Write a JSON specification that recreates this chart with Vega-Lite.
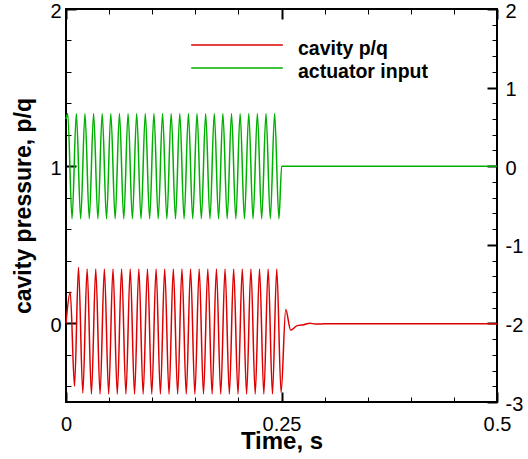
{
  "$schema": "https://vega.github.io/schema/vega-lite/v6.json",
  "width": 431,
  "height": 393,
  "autosize": {"type": "none"},
  "padding": {"left": 66, "top": 9, "right": 31, "bottom": 57},
  "background": "white",
  "config": {
    "font": "Liberation Sans",
    "view": {"stroke": "black", "strokeWidth": 2},
    "axis": {
      "domain": false,
      "grid": false,
      "labelFont": "Liberation Sans",
      "labelFontSize": 20,
      "labelColor": "black",
      "labelFlush": false,
      "labelOverlap": false,
      "tickColor": "black",
      "titleColor": "black",
      "titleFont": "Liberation Sans",
      "titleFontWeight": "bold"
    }
  },
  "datasets": {
    "pressure": [
      {"t": 0, "p": 0}, {"t": 0.0049, "p": 0.2}, {"t": 0.0099, "p": -0.4},
      {"t": 0.0145, "p": 0.357}, {"t": 0.0195, "p": -0.443},
      {"t": 0.0245, "p": 0.346}, {"t": 0.0295, "p": -0.449},
      {"t": 0.0345, "p": 0.346}, {"t": 0.0395, "p": -0.449},
      {"t": 0.0445, "p": 0.346}, {"t": 0.0495, "p": -0.449},
      {"t": 0.0545, "p": 0.346}, {"t": 0.0595, "p": -0.449},
      {"t": 0.0645, "p": 0.346}, {"t": 0.0695, "p": -0.449},
      {"t": 0.0745, "p": 0.346}, {"t": 0.0795, "p": -0.449},
      {"t": 0.0845, "p": 0.346}, {"t": 0.0895, "p": -0.449},
      {"t": 0.0945, "p": 0.346}, {"t": 0.0995, "p": -0.449},
      {"t": 0.1045, "p": 0.346}, {"t": 0.1095, "p": -0.449},
      {"t": 0.1145, "p": 0.346}, {"t": 0.1195, "p": -0.449},
      {"t": 0.1245, "p": 0.346}, {"t": 0.1295, "p": -0.449},
      {"t": 0.1345, "p": 0.346}, {"t": 0.1395, "p": -0.449},
      {"t": 0.1445, "p": 0.346}, {"t": 0.1495, "p": -0.449},
      {"t": 0.1545, "p": 0.346}, {"t": 0.1595, "p": -0.449},
      {"t": 0.1645, "p": 0.346}, {"t": 0.1695, "p": -0.449},
      {"t": 0.1745, "p": 0.346}, {"t": 0.1795, "p": -0.449},
      {"t": 0.1845, "p": 0.346}, {"t": 0.1895, "p": -0.449},
      {"t": 0.1945, "p": 0.346}, {"t": 0.1995, "p": -0.449},
      {"t": 0.2045, "p": 0.346}, {"t": 0.2095, "p": -0.449},
      {"t": 0.2145, "p": 0.346}, {"t": 0.2195, "p": -0.449},
      {"t": 0.2245, "p": 0.346}, {"t": 0.2295, "p": -0.449},
      {"t": 0.2345, "p": 0.346}, {"t": 0.2395, "p": -0.449},
      {"t": 0.2445, "p": 0.346}, {"t": 0.2495, "p": -0.44},
      {"t": 0.2549, "p": 0.089}, {"t": 0.2607, "p": -0.043},
      {"t": 0.2677, "p": -0.016}, {"t": 0.276, "p": -0.008},
      {"t": 0.2831, "p": 0.001}, {"t": 0.289, "p": -0.004},
      {"t": 0.3, "p": -0.003}, {"t": 0.3142, "p": -0.002},
      {"t": 0.5, "p": -0.002}
    ],
    "actuator": [
      {"t": 0, "u": 0.6},
      {"t": 0.002, "u": 0.67}, {"t": 0.007, "u": -0.67},
      {"t": 0.012, "u": 0.67}, {"t": 0.017, "u": -0.67},
      {"t": 0.022, "u": 0.67}, {"t": 0.027, "u": -0.67},
      {"t": 0.032, "u": 0.67}, {"t": 0.037, "u": -0.67},
      {"t": 0.042, "u": 0.67}, {"t": 0.047, "u": -0.67},
      {"t": 0.052, "u": 0.67}, {"t": 0.057, "u": -0.67},
      {"t": 0.062, "u": 0.67}, {"t": 0.067, "u": -0.67},
      {"t": 0.072, "u": 0.67}, {"t": 0.077, "u": -0.67},
      {"t": 0.082, "u": 0.67}, {"t": 0.087, "u": -0.67},
      {"t": 0.092, "u": 0.67}, {"t": 0.097, "u": -0.67},
      {"t": 0.102, "u": 0.67}, {"t": 0.107, "u": -0.67},
      {"t": 0.112, "u": 0.67}, {"t": 0.117, "u": -0.67},
      {"t": 0.122, "u": 0.67}, {"t": 0.127, "u": -0.67},
      {"t": 0.132, "u": 0.67}, {"t": 0.137, "u": -0.67},
      {"t": 0.142, "u": 0.67}, {"t": 0.147, "u": -0.67},
      {"t": 0.152, "u": 0.67}, {"t": 0.157, "u": -0.67},
      {"t": 0.162, "u": 0.67}, {"t": 0.167, "u": -0.67},
      {"t": 0.172, "u": 0.67}, {"t": 0.177, "u": -0.67},
      {"t": 0.182, "u": 0.67}, {"t": 0.187, "u": -0.67},
      {"t": 0.192, "u": 0.67}, {"t": 0.197, "u": -0.67},
      {"t": 0.202, "u": 0.67}, {"t": 0.207, "u": -0.67},
      {"t": 0.212, "u": 0.67}, {"t": 0.217, "u": -0.67},
      {"t": 0.222, "u": 0.67}, {"t": 0.227, "u": -0.67},
      {"t": 0.232, "u": 0.67}, {"t": 0.237, "u": -0.67},
      {"t": 0.242, "u": 0.67}, {"t": 0.247, "u": -0.67},
      {"t": 0.2502, "u": 0}, {"t": 0.5, "u": 0}
    ]
  },
  "layer": [
    {
      "data": {"name": "pressure"},
      "mark": {"type": "line", "strokeWidth": 1.5, "interpolate": "monotone"},
      "encoding": {
        "x": {
          "field": "t",
          "type": "quantitative",
          "scale": {"domain": [0, 0.5], "nice": false, "zero": false},
          "axis": {
            "orient": "bottom",
            "values": [0, 0.05, 0.1, 0.15, 0.2, 0.25, 0.3, 0.35, 0.4, 0.45, 0.5],
            "labelExpr": "datum.value == 0 || datum.value == 0.25 || datum.value == 0.5 ? toString(datum.value) : ''",
            "tickSize": {"condition": {"test": "datum.value == 0 || datum.value == 0.25 || datum.value == 0.5", "value": -10}, "value": -5},
            "tickWidth": {"condition": {"test": "datum.value == 0 || datum.value == 0.25 || datum.value == 0.5", "value": 2}, "value": 1},
            "labelPadding": 22,
            "title": "Time, s",
            "titleFontSize": 24,
            "titleBaseline": "alphabetic",
            "titleY": 46
          }
        },
        "y": {
          "field": "p",
          "type": "quantitative",
          "scale": {"domain": [-0.5, 2], "nice": false, "zero": false},
          "axis": {
            "orient": "left",
            "values": [-0.4, -0.2, 0, 0.2, 0.4, 0.6, 0.8, 1, 1.2, 1.4, 1.6, 1.8, 2],
            "labelExpr": "datum.value % 1 == 0 ? toString(datum.value) : ''",
            "tickSize": {"condition": {"test": "datum.value % 1 == 0", "value": -10}, "value": -5},
            "tickWidth": {"condition": {"test": "datum.value % 1 == 0", "value": 2}, "value": 1},
            "labelPadding": 15,
            "labelOffset": 2,
            "title": "cavity pressure, p/q",
            "titleFontSize": 23,
            "titleBaseline": "alphabetic",
            "titleAngle": -90,
            "titleAlign": "center",
            "titleX": -36,
            "titleY": 196.5
          }
        },
        "color": {
          "datum": "cavity p/q",
          "type": "nominal",
          "scale": {"domain": ["cavity p/q", "actuator input"], "range": ["#dd0000", "#00b000"]},
          "legend": {
            "orient": "none",
            "legendX": 161,
            "legendY": 30,
            "title": null,
            "padding": 0,
            "symbolType": "M-5,-0.45H5",
            "symbolSize": 336,
            "symbolStrokeWidth": 1.5,
            "labelFont": "Liberation Sans",
            "labelFontSize": 19.5,
            "labelFontWeight": "bold",
            "labelColor": "black",
            "labelOffset": 51,
            "rowPadding": 3
          }
        }
      }
    },
    {
      "data": {"name": "actuator"},
      "mark": {"type": "line", "strokeWidth": 1.5, "interpolate": "monotone"},
      "encoding": {
        "x": {
          "field": "t",
          "type": "quantitative",
          "axis": {
            "orient": "top",
            "values": [0, 0.05, 0.1, 0.15, 0.2, 0.25, 0.3, 0.35, 0.4, 0.45, 0.5],
            "labels": false,
            "tickSize": {"condition": {"test": "datum.value == 0 || datum.value == 0.25 || datum.value == 0.5", "value": -10}, "value": -5},
            "tickWidth": {"condition": {"test": "datum.value == 0 || datum.value == 0.25 || datum.value == 0.5", "value": 2}, "value": 1},
            "title": null
          }
        },
        "y": {
          "field": "u",
          "type": "quantitative",
          "scale": {"domain": [-3, 2], "nice": false, "zero": false},
          "axis": {
            "orient": "right",
            "values": [-3, -2.8, -2.6, -2.4, -2.2, -2, -1.8, -1.6, -1.4, -1.2, -1, -0.8, -0.6, -0.4, -0.2, 0, 0.2, 0.4, 0.6, 0.8, 1, 1.2, 1.4, 1.6, 1.8, 2],
            "labelExpr": "datum.value % 1 == 0 ? toString(datum.value) : ''",
            "tickSize": {"condition": {"test": "datum.value % 1 == 0", "value": -10}, "value": -5},
            "tickWidth": {"condition": {"test": "datum.value % 1 == 0", "value": 2}, "value": 1},
            "labelPadding": 18,
            "labelOffset": 2,
            "title": null
          }
        },
        "color": {"datum": "actuator input", "type": "nominal"}
      }
    }
  ],
  "resolve": {"scale": {"y": "independent"}, "axis": {"x": "independent"}}
}
